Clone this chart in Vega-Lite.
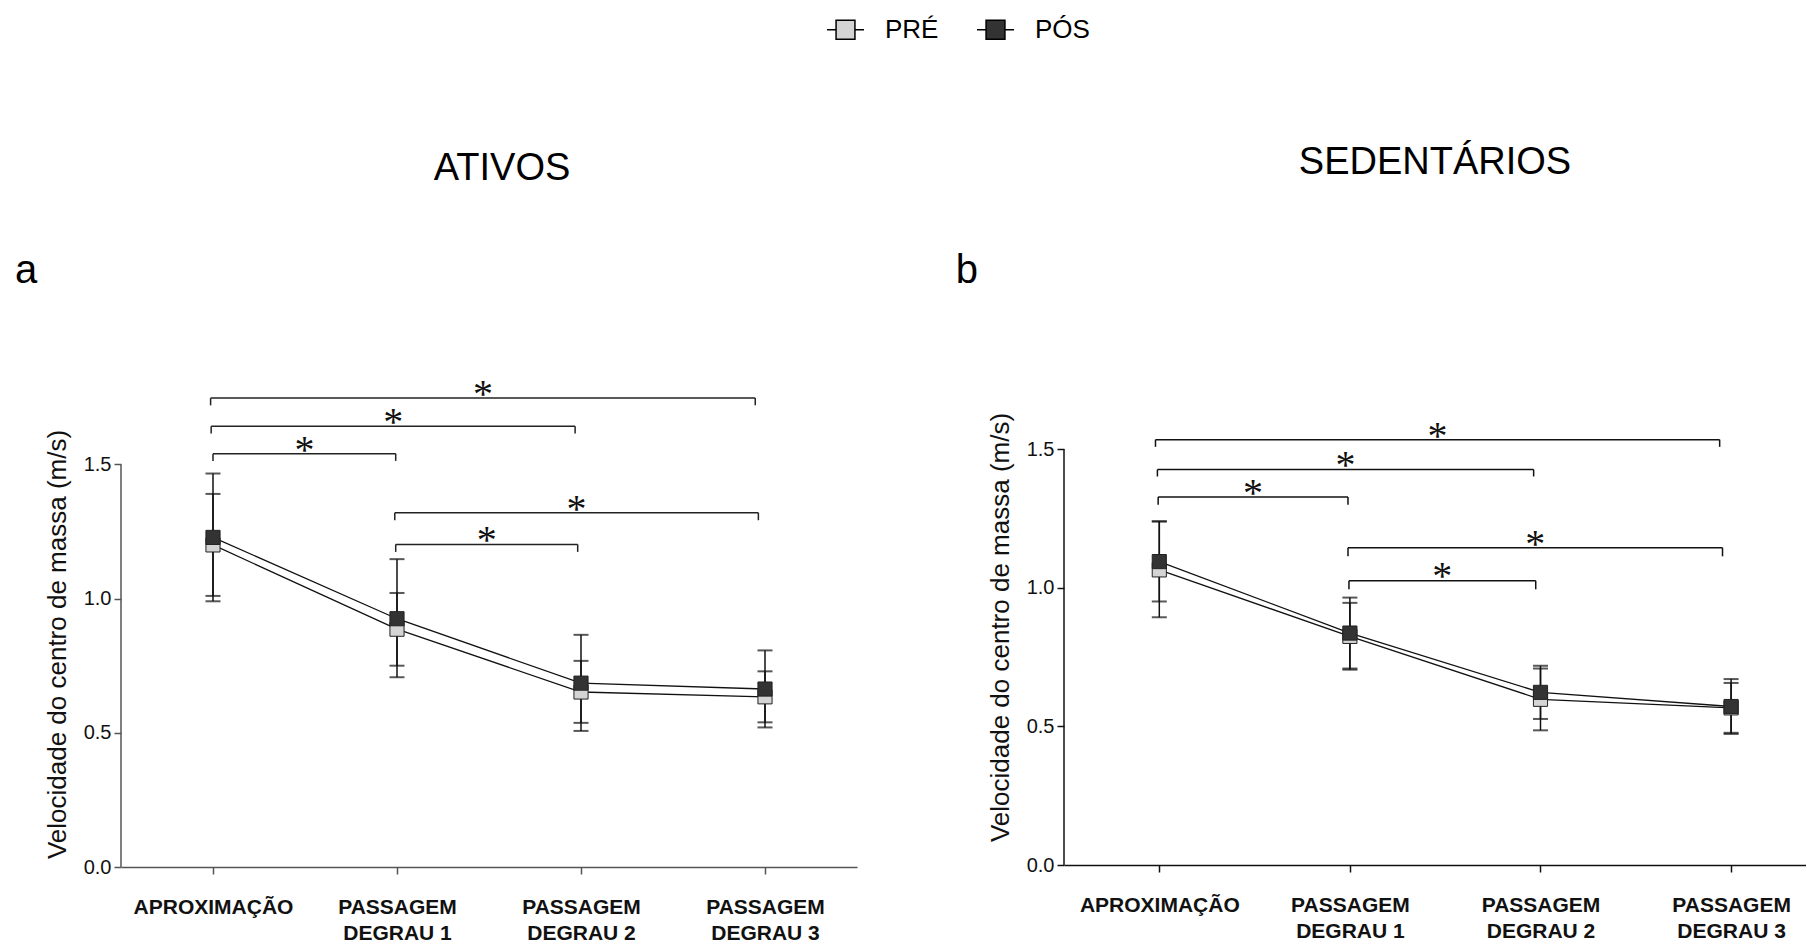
{
  "$schema": "https://vega.github.io/schema/vega-lite/v6.json",
  "padding": {"left": 14, "top": 10, "right": 0, "bottom": 0},
  "bounds": "flush",
  "spacing": 207,
  "config": {
    "view": {"stroke": null},
    "font": "Liberation Sans",
    "axis": {"grid": false, "labelFont": "Liberation Sans", "titleFont": "Liberation Sans"},
    "title": {"font": "Liberation Sans", "fontSize": 38, "fontWeight": "normal", "color": "#000"}
  },
  "datasets": {
    "pts_a": [
      {"serie": "PRÉ", "idx": 0, "media": 1.200, "inf": 1.010, "sup": 1.390},
      {"serie": "PRÉ", "idx": 1, "media": 0.886, "inf": 0.750, "sup": 1.021},
      {"serie": "PRÉ", "idx": 2, "media": 0.652, "inf": 0.537, "sup": 0.768},
      {"serie": "PRÉ", "idx": 3, "media": 0.634, "inf": 0.539, "sup": 0.729},
      {"serie": "PÓS", "idx": 0, "media": 1.228, "inf": 0.990, "sup": 1.466},
      {"serie": "PÓS", "idx": 1, "media": 0.925, "inf": 0.707, "sup": 1.147},
      {"serie": "PÓS", "idx": 2, "media": 0.685, "inf": 0.507, "sup": 0.865},
      {"serie": "PÓS", "idx": 3, "media": 0.663, "inf": 0.520, "sup": 0.807}
    ],
    "pts_b": [
      {"serie": "PRÉ", "idx": 0, "media": 1.065, "inf": 0.894, "sup": 1.240},
      {"serie": "PRÉ", "idx": 1, "media": 0.825, "inf": 0.705, "sup": 0.946},
      {"serie": "PRÉ", "idx": 2, "media": 0.598, "inf": 0.486, "sup": 0.709},
      {"serie": "PRÉ", "idx": 3, "media": 0.567, "inf": 0.477, "sup": 0.657},
      {"serie": "PÓS", "idx": 0, "media": 1.095, "inf": 0.951, "sup": 1.240},
      {"serie": "PÓS", "idx": 1, "media": 0.837, "inf": 0.709, "sup": 0.965},
      {"serie": "PÓS", "idx": 2, "media": 0.623, "inf": 0.527, "sup": 0.719},
      {"serie": "PÓS", "idx": 3, "media": 0.572, "inf": 0.473, "sup": 0.671}
    ],
    "br_a": [
      {"de": -0.013, "ate": 2.947, "meio": 1.467, "y": 1.747, "yd": 1.720, "ya": 1.782, "sig": "*"},
      {"de": -0.010, "ate": 1.968, "meio": 0.979, "y": 1.642, "yd": 1.615, "ya": 1.677, "sig": "*"},
      {"de": 0.000, "ate": 0.993, "meio": 0.497, "y": 1.540, "yd": 1.513, "ya": 1.573, "sig": "*"},
      {"de": 0.988, "ate": 2.964, "meio": 1.976, "y": 1.320, "yd": 1.292, "ya": 1.354, "sig": "*"},
      {"de": 0.993, "ate": 1.982, "meio": 1.488, "y": 1.202, "yd": 1.174, "ya": 1.238, "sig": "*"}
    ],
    "br_b": [
      {"de": -0.020, "ate": 2.940, "meio": 1.460, "y": 1.535, "yd": 1.509, "ya": 1.567, "sig": "*"},
      {"de": -0.010, "ate": 1.964, "meio": 0.977, "y": 1.427, "yd": 1.402, "ya": 1.462, "sig": "*"},
      {"de": -0.006, "ate": 0.990, "meio": 0.492, "y": 1.328, "yd": 1.300, "ya": 1.362, "sig": "*"},
      {"de": 0.990, "ate": 2.955, "meio": 1.972, "y": 1.145, "yd": 1.114, "ya": 1.178, "sig": "*"},
      {"de": 0.995, "ate": 1.975, "meio": 1.485, "y": 1.026, "yd": 0.995, "ya": 1.060, "sig": "*"}
    ]
  },
  "resolve": {"scale": {"fill": "shared"}, "legend": {"fill": "shared"}},
  "hconcat": [
    {
      "width": 736,
      "height": 617,
      "title": {"text": "ATIVOS", "frame": "group", "anchor": "middle", "offset": 62, "dx": 13},
      "layer": [
        {
          "data": {"name": "pts_a"},
          "mark": {"type": "line", "color": "#111", "strokeWidth": 1.3},
          "encoding": {
            "x": {"field": "idx", "type": "quantitative", "scale": {"domain": [-0.5, 3.5], "nice": false, "zero": false},
              "axis": {"values": [0, 1, 2, 3], "title": null, "labelExpr": "datum.value == 0 ? 'APROXIMAÇÃO' : ['PASSAGEM', 'DEGRAU ' + datum.value]",
                "tickSize": 7, "labelPadding": 22, "labelFontSize": 21, "labelFontWeight": "bold", "labelLineHeight": 26, "labelColor": "#111",
                "domainColor": "#555", "tickColor": "#555", "domainWidth": 1.5, "tickWidth": 1.5, "labelFlush": false, "labelOverlap": false, "labelBound": false, "labelAngle": 0}},
            "y": {"field": "media", "type": "quantitative", "title": "Velocidade do centro de massa (m/s)", "scale": {"domain": [0, 2.2988], "nice": false, "zero": false},
              "axis": {"values": [0, 0.5, 1, 1.5], "format": ".1f", "domain": false, "tickSize": 7, "tickColor": "#555", "tickWidth": 1.5,
                "labelFontSize": 20, "labelPadding": 3, "labelColor": "#111", "title": "Velocidade do centro de massa (m/s)",
                "titleFontSize": 26, "titleFontWeight": "normal", "titleColor": "#111", "titleX": -64, "titleY": 394, "titleAngle": -90, "titleAlign": "center", "titleBaseline": "middle"}},
            "detail": {"field": "serie"}
          }
        },
        {
          "data": {"name": "pts_a"},
          "mark": {"type": "errorbar", "ticks": {"size": 15, "thickness": 2, "color": "#111"}, "rule": {"strokeWidth": 1.5, "color": "#111"}},
          "encoding": {
            "x": {"field": "idx", "type": "quantitative"},
            "y": {"field": "inf", "type": "quantitative", "title": "Velocidade do centro de massa (m/s)"},
            "y2": {"field": "sup"}
          }
        },
        {
          "data": {"name": "pts_a"},
          "mark": {"type": "square", "size": 200, "filled": true, "stroke": "#222", "strokeWidth": 1, "opacity": 1},
          "encoding": {
            "x": {"field": "idx", "type": "quantitative"},
            "y": {"field": "media", "type": "quantitative", "title": "Velocidade do centro de massa (m/s)"},
            "fill": {"field": "serie", "type": "nominal", "scale": {"domain": ["PRÉ", "PÓS"], "range": ["#d4d4d4", "#333333"]},
              "legend": {"title": null, "orient": "none", "legendX": 705, "legendY": -240, "direction": "horizontal",
                "symbolType": "M-1,0H-0.51M0.51,0H1M-0.51,-0.51H0.51V0.51H-0.51Z", "symbolSize": 1369, "symbolStrokeColor": "#000", "symbolStrokeWidth": 1.5,
                "labelFontSize": 26, "labelFont": "Liberation Sans", "labelColor": "#000", "labelOffset": 20, "columnPadding": 35, "padding": 0, "symbolOpacity": 1}}
          }
        },
        {
          "data": {"name": "br_a"},
          "mark": {"type": "rule", "color": "#222", "strokeWidth": 1.5},
          "encoding": {"x": {"field": "de", "type": "quantitative"}, "x2": {"field": "ate"}, "y": {"field": "y", "type": "quantitative", "title": "Velocidade do centro de massa (m/s)"}}
        },
        {
          "data": {"name": "br_a"},
          "mark": {"type": "rule", "color": "#222", "strokeWidth": 1.5},
          "encoding": {"x": {"field": "de", "type": "quantitative"}, "y": {"field": "y", "type": "quantitative", "title": "Velocidade do centro de massa (m/s)"}, "y2": {"field": "yd"}}
        },
        {
          "data": {"name": "br_a"},
          "mark": {"type": "rule", "color": "#222", "strokeWidth": 1.5},
          "encoding": {"x": {"field": "ate", "type": "quantitative"}, "y": {"field": "y", "type": "quantitative", "title": "Velocidade do centro de massa (m/s)"}, "y2": {"field": "yd"}}
        },
        {
          "data": {"name": "br_a"},
          "mark": {"type": "text", "font": "Liberation Serif", "fontSize": 40, "baseline": "alphabetic", "align": "center", "dy": 18, "color": "#111"},
          "encoding": {"x": {"field": "meio", "type": "quantitative"}, "y": {"field": "ya", "type": "quantitative", "title": "Velocidade do centro de massa (m/s)"}, "text": {"field": "sig"}}
        },
        {
          "data": {"values": [{"rotulo": "a"}]},
          "mark": {"type": "text", "fontSize": 40, "baseline": "middle", "align": "center", "color": "#000"},
          "encoding": {"x": {"datum": -1.016, "type": "quantitative"}, "y": {"datum": 2.219, "type": "quantitative"}, "text": {"field": "rotulo"}}
        },
        {
          "data": {"values": [{}]},
          "mark": {"type": "rule", "color": "#555", "strokeWidth": 1.5},
          "encoding": {"x": {"datum": -0.5, "type": "quantitative"}, "y": {"datum": 0, "type": "quantitative"}, "y2": {"datum": 1.5}}
        }
      ]
    },
    {
      "width": 742,
      "height": 615,
      "title": {"text": "SEDENTÁRIOS", "frame": "group", "anchor": "middle", "offset": 68},
      "layer": [
        {
          "data": {"name": "pts_b"},
          "mark": {"type": "line", "color": "#111", "strokeWidth": 1.3},
          "encoding": {
            "x": {"field": "idx", "type": "quantitative", "scale": {"domain": [-0.5, 3.393], "nice": false, "zero": false},
              "axis": {"values": [0, 1, 2, 3], "title": null, "labelExpr": "datum.value == 0 ? 'APROXIMAÇÃO' : ['PASSAGEM', 'DEGRAU ' + datum.value]",
                "tickSize": 7, "labelPadding": 22, "labelFontSize": 21, "labelFontWeight": "bold", "labelLineHeight": 26, "labelColor": "#111",
                "domainColor": "#111", "tickColor": "#111", "domainWidth": 1.5, "tickWidth": 1.5, "labelFlush": false, "labelOverlap": false, "labelBound": false, "labelAngle": 0}},
            "y": {"field": "media", "type": "quantitative", "title": "Velocidade do centro de massa (m/s)", "scale": {"domain": [0, 2.2194], "nice": false, "zero": false},
              "axis": {"values": [0, 0.5, 1, 1.5], "format": ".1f", "domain": false, "tickSize": 7, "tickColor": "#111", "tickWidth": 1.5,
                "labelFontSize": 20, "labelPadding": 3, "labelColor": "#111", "title": "Velocidade do centro de massa (m/s)",
                "titleFontSize": 26, "titleFontWeight": "normal", "titleColor": "#111", "titleX": -64, "titleY": 377, "titleAngle": -90, "titleAlign": "center", "titleBaseline": "middle"}},
            "detail": {"field": "serie"}
          }
        },
        {
          "data": {"name": "pts_b"},
          "mark": {"type": "errorbar", "ticks": {"size": 15, "thickness": 2, "color": "#111"}, "rule": {"strokeWidth": 1.5, "color": "#111"}},
          "encoding": {
            "x": {"field": "idx", "type": "quantitative"},
            "y": {"field": "inf", "type": "quantitative", "title": "Velocidade do centro de massa (m/s)"},
            "y2": {"field": "sup"}
          }
        },
        {
          "data": {"name": "pts_b"},
          "mark": {"type": "square", "size": 200, "filled": true, "stroke": "#222", "strokeWidth": 1, "opacity": 1},
          "encoding": {
            "x": {"field": "idx", "type": "quantitative"},
            "y": {"field": "media", "type": "quantitative", "title": "Velocidade do centro de massa (m/s)"},
            "fill": {"field": "serie", "type": "nominal", "scale": {"domain": ["PRÉ", "PÓS"], "range": ["#d4d4d4", "#333333"]},
              "legend": {"title": null, "orient": "none", "legendX": 705, "legendY": -240, "direction": "horizontal",
                "symbolType": "M-1,0H-0.51M0.51,0H1M-0.51,-0.51H0.51V0.51H-0.51Z", "symbolSize": 1369, "symbolStrokeColor": "#000", "symbolStrokeWidth": 1.5,
                "labelFontSize": 26, "labelFont": "Liberation Sans", "labelColor": "#000", "labelOffset": 20, "columnPadding": 35, "padding": 0, "symbolOpacity": 1}}
          }
        },
        {
          "data": {"name": "br_b"},
          "mark": {"type": "rule", "color": "#111", "strokeWidth": 1.5},
          "encoding": {"x": {"field": "de", "type": "quantitative"}, "x2": {"field": "ate"}, "y": {"field": "y", "type": "quantitative", "title": "Velocidade do centro de massa (m/s)"}}
        },
        {
          "data": {"name": "br_b"},
          "mark": {"type": "rule", "color": "#111", "strokeWidth": 1.5},
          "encoding": {"x": {"field": "de", "type": "quantitative"}, "y": {"field": "y", "type": "quantitative", "title": "Velocidade do centro de massa (m/s)"}, "y2": {"field": "yd"}}
        },
        {
          "data": {"name": "br_b"},
          "mark": {"type": "rule", "color": "#111", "strokeWidth": 1.5},
          "encoding": {"x": {"field": "ate", "type": "quantitative"}, "y": {"field": "y", "type": "quantitative", "title": "Velocidade do centro de massa (m/s)"}, "y2": {"field": "yd"}}
        },
        {
          "data": {"name": "br_b"},
          "mark": {"type": "text", "font": "Liberation Serif", "fontSize": 40, "baseline": "alphabetic", "align": "center", "dy": 18, "color": "#111"},
          "encoding": {"x": {"field": "meio", "type": "quantitative"}, "y": {"field": "ya", "type": "quantitative", "title": "Velocidade do centro de massa (m/s)"}, "text": {"field": "sig"}}
        },
        {
          "data": {"values": [{"rotulo": "b"}]},
          "mark": {"type": "text", "fontSize": 40, "baseline": "middle", "align": "center", "color": "#000"},
          "encoding": {"x": {"datum": -1.009, "type": "quantitative"}, "y": {"datum": 2.1436, "type": "quantitative"}, "text": {"field": "rotulo"}}
        },
        {
          "data": {"values": [{}]},
          "mark": {"type": "rule", "color": "#111", "strokeWidth": 1.5},
          "encoding": {"x": {"datum": -0.5, "type": "quantitative"}, "y": {"datum": 0, "type": "quantitative"}, "y2": {"datum": 1.5}}
        }
      ]
    }
  ]
}
